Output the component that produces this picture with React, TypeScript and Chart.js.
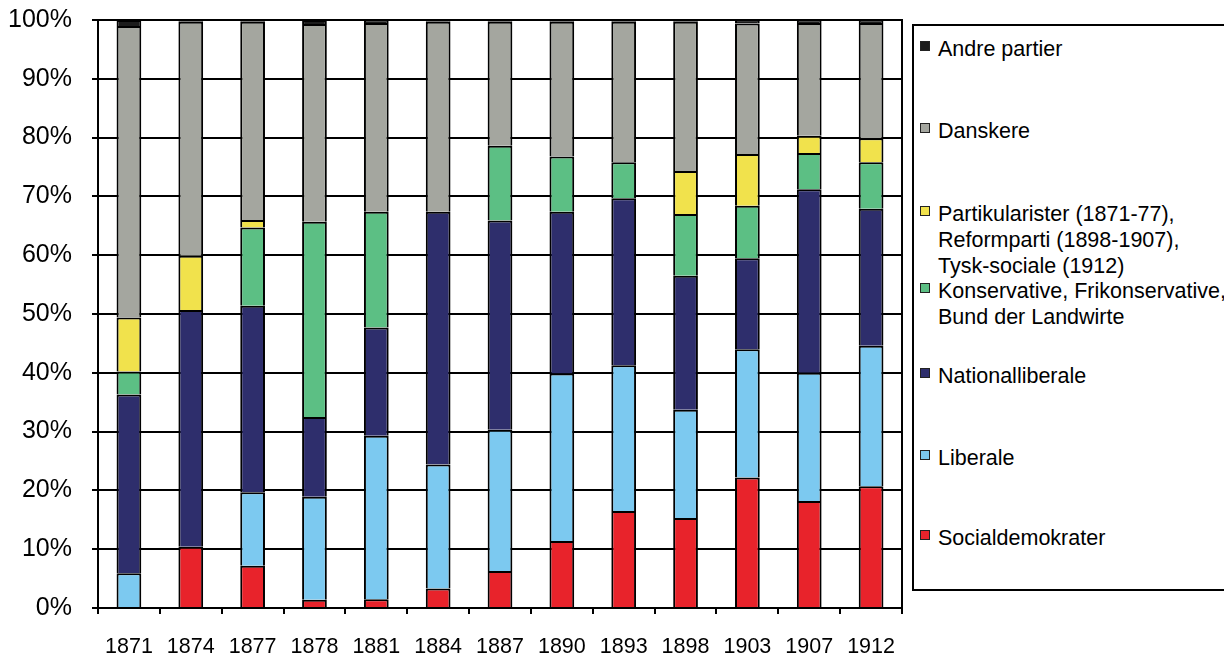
import React, { useEffect, useRef } from "react";
import { Chart, registerables } from "chart.js";

Chart.register(...registerables);

const years = ["1871", "1874", "1877", "1878", "1881", "1884", "1887", "1890", "1893", "1898", "1903", "1907", "1912"];

const socialdemokrater = [0, 10.4, 7.2, 1.4, 1.5, 3.3, 6.3, 11.4, 16.5, 15.3, 22.2, 18.2, 20.7];
const liberale = [5.9, 0, 12.5, 17.5, 27.8, 21.1, 24.0, 28.5, 24.8, 18.4, 21.8, 21.8, 23.9];
const nationalliberale = [30.4, 40.3, 31.7, 13.6, 18.4, 43.0, 35.6, 27.5, 28.4, 22.8, 15.5, 31.2, 23.3];
const konservative = [3.9, 0, 13.3, 33.2, 19.7, 0, 12.7, 9.4, 6.1, 10.5, 8.9, 6.2, 7.9];
const partikularister = [9.2, 9.2, 1.3, 0, 0, 0, 0, 0, 0, 7.3, 8.8, 2.9, 4.1];
const danskere = [49.6, 39.8, 33.7, 33.6, 32.1, 32.3, 21.1, 22.9, 23.9, 25.4, 22.2, 19.2, 19.6];
const andrePartier = [1.0, 0.3, 0.3, 0.7, 0.5, 0.3, 0.3, 0.3, 0.3, 0.3, 0.6, 0.5, 0.5];

const yTicks = [0, 10, 20, 30, 40, 50, 60, 70, 80, 90, 100];

const COLORS = {
  sd: "#e8232b",
  lib: "#7cc9f0",
  nl: "#2e2e6c",
  kons: "#5cbf84",
  part: "#f1e24c",
  dansk: "#a4a69f",
  andre: "#1c1c1c",
};

const legendItems = [
  { color: COLORS.andre, lines: ["Andre partier"], top: 36 },
  { color: COLORS.dansk, lines: ["Danskere"], top: 118 },
  { color: COLORS.part, lines: ["Partikularister (1871-77),", "Reformparti (1898-1907),", "Tysk-sociale (1912)"], top: 201 },
  { color: COLORS.kons, lines: ["Konservative, Frikonservative,", "Bund der Landwirte"], top: 278 },
  { color: COLORS.nl, lines: ["Nationalliberale"], top: 363 },
  { color: COLORS.lib, lines: ["Liberale"], top: 445 },
  { color: COLORS.sd, lines: ["Socialdemokrater"], top: 525 },
];

const FONT = "'Liberation Sans', Arial, Helvetica, sans-serif";

export default function App() {
  const canvasRef = useRef<HTMLCanvasElement | null>(null);

  useEffect(() => {
    if (!canvasRef.current) return;
    const mk = (label: string, data: number[], color: string) => ({
      label,
      data,
      backgroundColor: color,
      borderColor: "#000",
      borderWidth: 2,
      borderSkipped: "start" as const,
      categoryPercentage: 1,
      barPercentage: 0.4,
    });

    const rightBorder = {
      id: "rightBorder",
      beforeDatasetsDraw(chart: any) {
        const { ctx, chartArea } = chart;
        ctx.save();
        ctx.strokeStyle = "#000";
        ctx.lineWidth = 2;
        ctx.beginPath();
        ctx.moveTo(chartArea.right, chartArea.top - 1);
        ctx.lineTo(chartArea.right, chartArea.bottom);
        ctx.stroke();
        ctx.restore();
      },
    };

    const chart = new Chart(canvasRef.current, {
      type: "bar",
      data: {
        labels: years,
        datasets: [
          mk("Socialdemokrater", socialdemokrater, COLORS.sd),
          mk("Liberale", liberale, COLORS.lib),
          mk("Nationalliberale", nationalliberale, COLORS.nl),
          mk("Konservative, Frikonservative, Bund der Landwirte", konservative, COLORS.kons),
          mk("Partikularister / Reformparti / Tysk-sociale", partikularister, COLORS.part),
          mk("Danskere", danskere, COLORS.dansk),
          mk("Andre partier", andrePartier, COLORS.andre),
        ],
      },
      options: {
        responsive: false,
        animation: false,
        layout: { padding: { top: 20, right: 8, left: 0, bottom: 0 } },
        plugins: {
          legend: { display: false },
          tooltip: { enabled: false },
        },
        scales: {
          x: {
            stacked: true,
            grid: {
              offset: true,
              drawOnChartArea: false,
              drawTicks: true,
              tickLength: 6,
              color: "#000",
              lineWidth: 2,
            },
            border: { display: true, color: "#000", width: 2 },
            ticks: {
              color: "#000",
              font: { family: FONT, size: 21.5 },
              padding: 20,
              maxRotation: 0,
              autoSkip: false,
            },
            afterFit: (s: any) => {
              s.height = 46;
              s.paddingLeft = 0;
              s.paddingRight = 0;
            },
          },
          y: {
            stacked: true,
            min: 0,
            max: 100,
            afterBuildTicks: (s: any) => {
              s.ticks = yTicks.map((v) => ({ value: v }));
            },
            ticks: {
              color: "#000",
              font: { family: FONT, size: 25 },
              padding: 20,
              callback: (v: any) => v + "%",
            },
            grid: { color: "#000", lineWidth: 2, tickLength: 6 },
            border: { display: true, color: "#000", width: 2 },
            afterFit: (s: any) => {
              s.width = 98;
              s.paddingTop = 0;
              s.paddingBottom = 0;
            },
          },
        },
      },
      plugins: [rightBorder],
    });
    return () => chart.destroy();
  }, []);

  return (
    <div style={{ position: "absolute", left: 0, top: 0, width: 1224, height: 654, background: "#fff", overflow: "hidden", fontFamily: FONT }}>
      <canvas ref={canvasRef} width={910} height={654} style={{ position: "absolute", left: 0, top: 0 }} />
      <div
        style={{
          position: "absolute",
          left: 912,
          top: 24,
          width: 330,
          height: 567,
          border: "2px solid #000",
          boxSizing: "border-box",
        }}
      />
      {legendItems.map((it) => (
        <React.Fragment key={it.lines[0]}>
          <div
            style={{
              position: "absolute",
              left: 920,
              top: it.top + 5,
              width: 8,
              height: 8,
              background: it.color,
              border: "1px solid #222",
            }}
          />
          <div
            style={{
              position: "absolute",
              left: 938,
              top: it.top,
              fontSize: 21.5,
              lineHeight: "26px",
              color: "#000",
              whiteSpace: "nowrap",
            }}
          >
            {it.lines.map((l) => (
              <div key={l}>{l}</div>
            ))}
          </div>
        </React.Fragment>
      ))}
    </div>
  );
}
